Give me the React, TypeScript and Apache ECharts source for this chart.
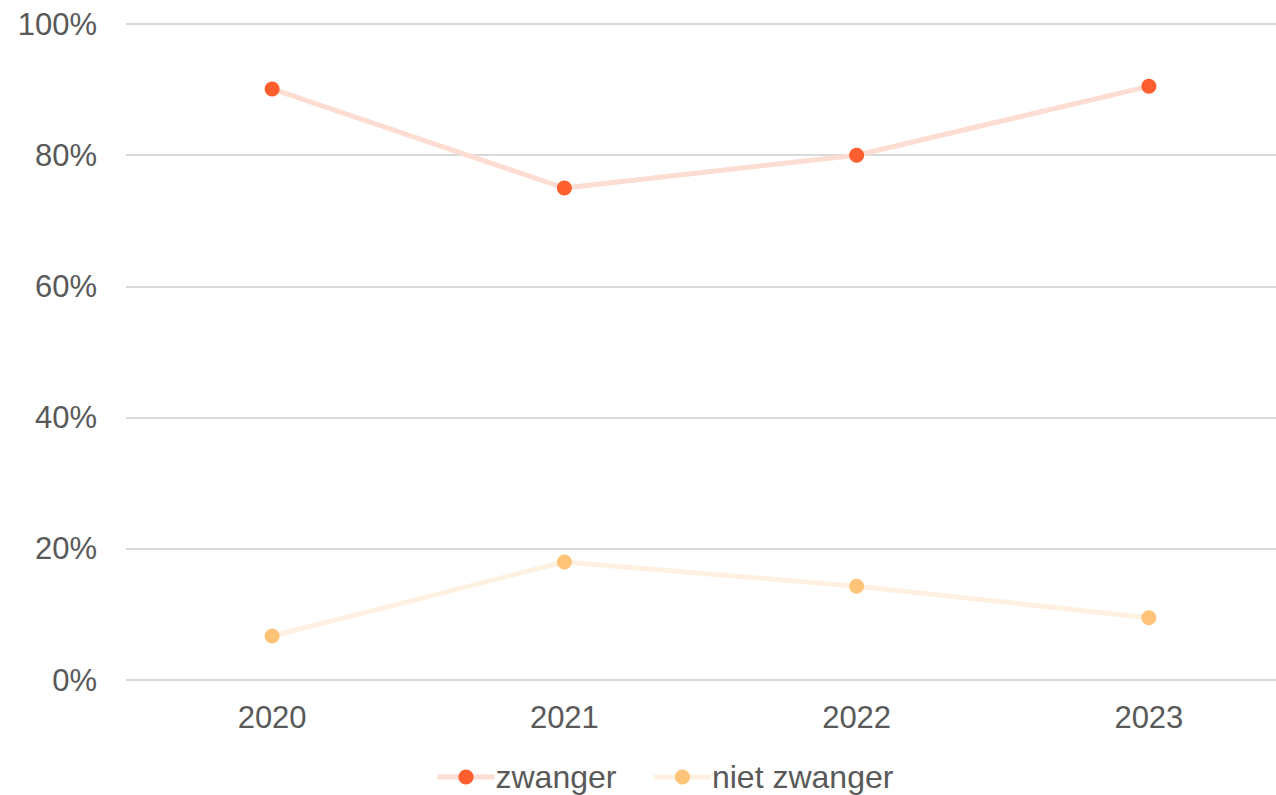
import React, { useEffect, useRef } from "react";
import * as echarts from "echarts";

const categories = ["2020", "2021", "2022", "2023"];
const zwanger = [90.1, 75.0, 80.0, 90.5];
const nietZwanger = [6.7, 18.0, 14.3, 9.5];
const yTicks = { min: 0, max: 100, interval: 20 };

export default function App() {
  const ref = useRef<HTMLDivElement>(null);
  useEffect(() => {
    document.body.style.margin = "0";
    document.body.style.overflow = "hidden";
    const chart = echarts.init(ref.current!, null, { renderer: "svg" });
    chart.setOption({
      animation: false,
      textStyle: { fontFamily: "Liberation Sans, Arial, sans-serif" },
      grid: { left: 126, right: 0, top: 24, bottom: 115, containLabel: false },
      legend: {
        bottom: -3,
        left: 430,
        itemWidth: 57,
        itemHeight: 19,
        itemGap: 35,
        lineStyle: { width: 5 },
        textStyle: { fontSize: 32, color: "#595959", padding: [0, 0, 0, -4] },
        data: ["zwanger", "niet zwanger"],
      },
      xAxis: {
        type: "category",
        data: categories,
        boundaryGap: true,
        axisLine: { show: false },
        axisTick: { show: false },
        axisLabel: { fontSize: 31, color: "#595959", margin: 22 },
      },
      yAxis: {
        type: "value",
        min: yTicks.min,
        max: yTicks.max,
        interval: yTicks.interval,
        axisLine: { show: false },
        axisTick: { show: false },
        axisLabel: { fontSize: 31, color: "#595959", margin: 29, formatter: "{value}%" },
        splitLine: { lineStyle: { color: "#D9D9D9", width: 2 } },
      },
      series: [
        {
          name: "zwanger",
          type: "line",
          data: zwanger,
          symbol: "circle",
          symbolSize: 15,
          itemStyle: { color: "#FF5F2E" },
          lineStyle: { color: "#FDDCD2", width: 5 },
        },
        {
          name: "niet zwanger",
          type: "line",
          data: nietZwanger,
          symbol: "circle",
          symbolSize: 15,
          itemStyle: { color: "#FFC47A" },
          lineStyle: { color: "#FEF1E2", width: 5 },
        },
      ],
    });
    return () => chart.dispose();
  }, []);
  return (
    <div style={{ width: 1276, height: 795, overflow: "hidden" }}>
      <div ref={ref} style={{ width: 1295, height: 795 }} />
    </div>
  );
}
